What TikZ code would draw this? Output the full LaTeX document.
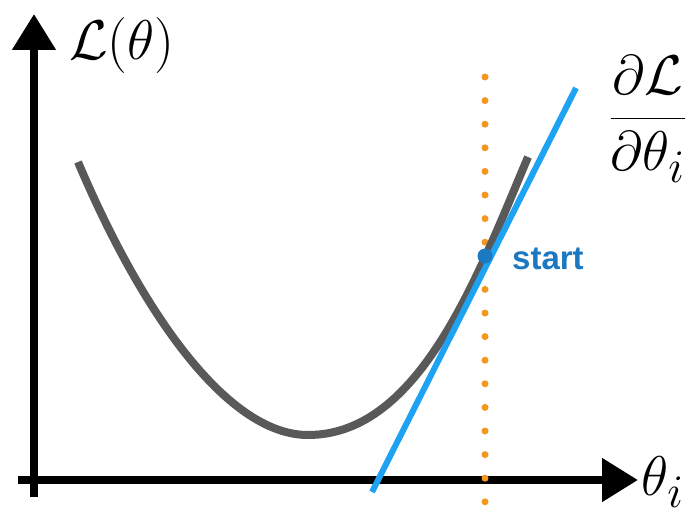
\documentclass[tikz,border=0pt]{standalone}
\usepackage{fontspec}
\setsansfont{Liberation Sans}
\usetikzlibrary{arrows.meta}
\definecolor{curvegray}{HTML}{595959}
\definecolor{lineblue}{HTML}{1EA2F4}
\definecolor{ptblue}{HTML}{1C78C0}
\definecolor{dotorange}{HTML}{F5961E}
\newcommand{\bigmath}[1]{\scalebox{2.25}{\Huge #1}}
\tikzset{
  axis/.style={line width=8pt,-{Triangle[length=36pt,width=42pt]}},
  mathlbl/.style={inner sep=0pt},
}
\begin{document}
\begin{tikzpicture}[x=1pt,y=-1pt]
\useasboundingbox (0,0) rectangle (692,508);
% axes
\coordinate (ybot) at (34,497);
\coordinate (ytop) at (34,14);
\coordinate (xleft) at (18,480);
\coordinate (xright) at (638,480);
\draw[axis] (ybot) -- (ytop);
\draw[axis] (xleft) -- (xright);
% orange dotted line
\coordinate (dtop) at (485,77);
\coordinate (dbot) at (485,502);
\draw[dotorange,line width=7pt,line cap=round,dash pattern=on 0pt off 23.6pt] (dtop) -- (dbot);
% gray curve
\coordinate (cl) at (78,162);
\coordinate (cm) at (308,435);
\coordinate (cr) at (528,157);
\draw[curvegray,line width=8pt] (cl) .. controls (145,320) and (230,435) .. (cm)
  .. controls (420,435) and (478,275) .. (cr);
% blue tangent line
\coordinate (ba) at (372,492);
\coordinate (bb) at (576,88);
\draw[lineblue,line width=6pt] (ba) -- (bb);
% start point
\node[circle,fill=ptblue,inner sep=0pt,minimum size=15pt] (start) at (485,256) {};
\node[anchor=west,text=ptblue,font=\sffamily\bfseries\fontsize{33}{38}\selectfont,inner sep=0pt] (startlbl) at (512,259) {start};
% labels
\node[mathlbl] (ylbl) at (122,46) {\bigmath{$\mathcal{L}(\theta)$}};
\node[mathlbl] (xlbl) at (663,482) {\bigmath{$\theta_i$}};
\node[mathlbl] (grad) at (648,119) {\bigmath{$\displaystyle\frac{\partial\mathcal{L}}{\partial\theta_i}$}};
\end{tikzpicture}
\end{document}
